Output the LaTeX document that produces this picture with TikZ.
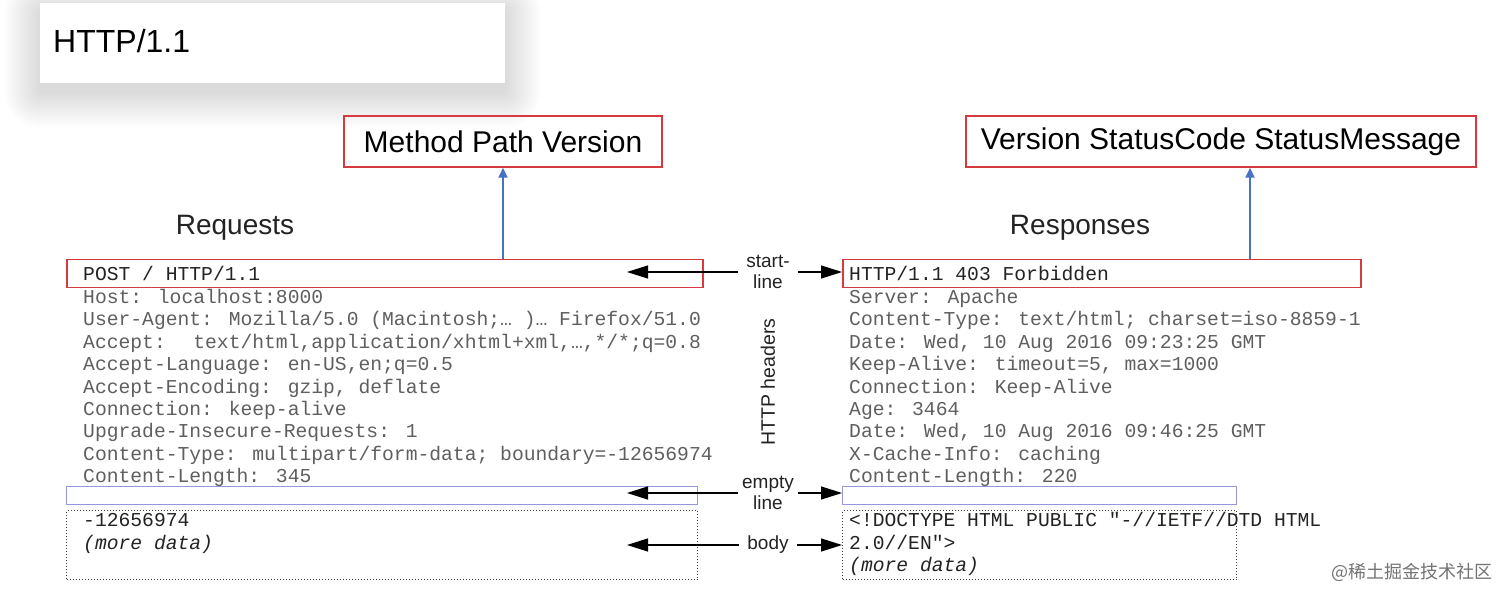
\documentclass[tikz,border=0pt]{standalone}
\usepackage{fontspec}
\setmainfont{Liberation Sans}
\newfontfamily\codefont{Liberation Mono}
\newfontfamily\cjkfont{Noto Sans CJK SC}
\usetikzlibrary{arrows.meta}
\definecolor{redb}{RGB}{212,58,62}
\definecolor{blueA}{RGB}{68,114,196}
\definecolor{lav}{RGB}{150,150,220}
\definecolor{txtg}{RGB}{95,95,95}
\definecolor{txtd}{RGB}{35,35,35}
\tikzset{
  codeline/.style={font=\codefont\fontsize{19.67}{22.4}\selectfont, text=txtg, inner sep=0pt, anchor=base west},
  codedark/.style={codeline, text=txtd},
  redbox/.style={draw=redb, line width=1.5pt, inner sep=0pt, anchor=north west},
  lavbox/.style={draw=lav, line width=1pt, inner sep=0pt, anchor=north west},
  dotbox/.style={draw=black!75, dotted, line width=1pt, inner sep=0pt, anchor=north west},
  titlebox/.style={draw=redb, line width=1.5pt, inner sep=0pt, font=\fontsize{30}{36}\selectfont, text=black},
  heading/.style={font=\fontsize{28}{34}\selectfont, text=txtd, inner sep=0pt, anchor=base},
  sidelab/.style={font=\fontsize{19}{21}\selectfont, text=txtd, align=center, inner ysep=2pt},
  bigarr/.style={-{Triangle[length=21pt,width=13pt]}, line width=1.3pt, black},
  bluearr/.style={-{Triangle[length=10pt,width=9pt]}, blueA, line width=2pt},
}
\begin{document}
\begin{tikzpicture}[x=1pt,y=-1pt]
\useasboundingbox (0,0) rectangle (1512,601);
\fill[white] (0,0) rectangle (1512,601);
% card shadow
\foreach \i in {1,...,36}{
  \fill[black, opacity=0.0045, rounded corners={\i pt}] ({40-\i},{3-\i+9}) rectangle ({505+\i},{83+\i+9});
}
\node[fill=white, minimum width=465pt, minimum height=80pt, inner sep=0pt, anchor=north west] (card) at (40,3) {};
\node[font=\fontsize{32}{36}\selectfont, inner sep=0pt, anchor=west] (ttl) at (53,41) {HTTP/1.1};

% title boxes
\node[titlebox, minimum width=318pt, minimum height=51pt] (mpv) at (503,141.5) {Method Path Version};
\node[titlebox, minimum width=510pt, minimum height=51pt] (vsc) at (1221,141.5) {Version StatusCode StatusMessage};

\node[heading] (req) at (235,235) {Requests};
\node[heading] (resp) at (1080,235) {Responses};

% boxes
\node[redbox, minimum width=636pt, minimum height=28pt] (rqbox) at (66,259) {};
\node[redbox, minimum width=518pt, minimum height=28pt] (rsbox) at (842,259) {};
\node[lavbox, minimum width=631pt, minimum height=18pt] (rqempty) at (66,486) {};
\node[lavbox, minimum width=394pt, minimum height=18pt] (rsempty) at (842,486) {};
\node[dotbox, minimum width=631pt, minimum height=69pt] (rqbody) at (66,510) {};
\node[dotbox, minimum width=394pt, minimum height=69pt] (rsbody) at (842,510) {};

% blue arrows
\coordinate (ra) at (1250,0);
\draw[bluearr] (rqbox.north -| mpv.south) -- (mpv.south);
\draw[bluearr] (rsbox.north -| ra) -- (vsc.south -| ra);

% request lines
\node[codedark] (rq1) at (83,281) {POST / HTTP/1.1};
\foreach [count=\i from 2] \t in {
  {Host: localhost:8000},
  {User-Agent: Mozilla/5.0 (Macintosh;… )… Firefox/51.0},
  {Accept:~ text/html,application/xhtml+xml,…,*/*;q=0.8},
  {Accept-Language: en-US,en;q=0.5},
  {Accept-Encoding: gzip, deflate},
  {Connection: keep-alive},
  {Upgrade-Insecure-Requests: 1},
  {Content-Type: multipart/form-data; boundary=-12656974},
  {Content-Length: 345}}{
  \node[codeline] (rq\i) at (83,{281+(\i-1)*22.4}) {\t};
}
\node[codedark] (rqb1) at (83,526.5) {-12656974};
\node[codedark] (rqb2) at (83,549) {\itshape (more data)};

% response lines
\node[codedark] (rs1) at (849,281) {HTTP/1.1 403 Forbidden};
\foreach [count=\i from 2] \t in {
  {Server: Apache},
  {Content-Type: text/html; charset=iso-8859-1},
  {Date: Wed, 10 Aug 2016 09:23:25 GMT},
  {Keep-Alive: timeout=5, max=1000},
  {Connection: Keep-Alive},
  {Age: 3464},
  {Date: Wed, 10 Aug 2016 09:46:25 GMT},
  {X-Cache-Info: caching},
  {Content-Length: 220}}{
  \node[codeline] (rs\i) at (849,{281+(\i-1)*22.4}) {\t};
}
\node[codedark] (rsb1) at (849,526.5) {<!DOCTYPE HTML PUBLIC "-//IETF//DTD HTML};
\node[codedark] (rsb2) at (849,549) {2.0//EN">};
\node[codedark] (rsb3) at (849,571.5) {\itshape (more data)};

% middle labels
\node[sidelab, inner xsep=8pt] (sl) at (768,272) {start-\\line};
\node[sidelab, inner xsep=4pt] (el) at (768,493) {empty\\line};
\node[sidelab, inner xsep=8pt] (bl) at (768,545) {body};
\node[font=\fontsize{19.5}{22}\selectfont, text=txtd, rotate=90, inner sep=0pt] (hh) at (768,382) {HTTP headers};

\coordinate (tipL) at (627,0);
\draw[bigarr] (sl.west) -- (sl.west -| tipL);
\draw[bigarr] (sl.east) -- (sl.east -| rsbox.west);
\draw[bigarr] (el.west) -- (el.west -| tipL);
\draw[bigarr] (el.east) -- (el.east -| rsempty.west);
\draw[bigarr] (bl.west) -- (bl.west -| tipL);
\draw[bigarr] (bl.east) -- (bl.east -| rsbody.west);

% watermark
\node[font=\cjkfont\fontsize{18}{20}\selectfont, text=black!55, inner sep=0pt, anchor=east] (wm) at (1493,572) {@稀土掘金技术社区};
\end{tikzpicture}
\end{document}
